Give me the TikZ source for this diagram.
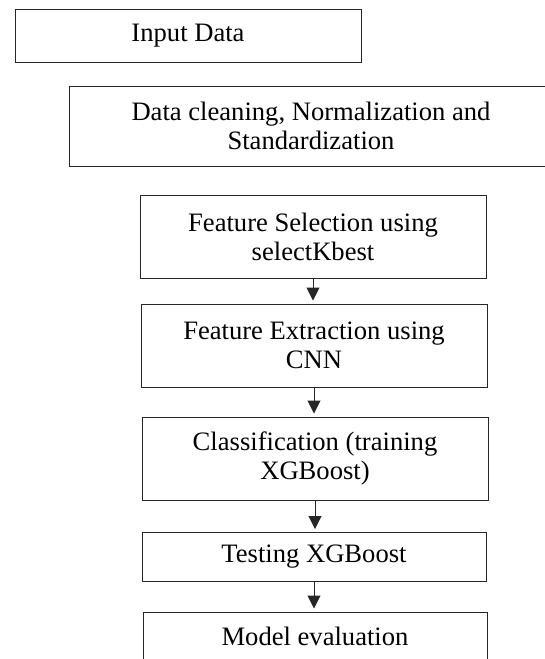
\documentclass[tikz,border=0pt]{standalone}
\usepackage{fontspec}
\setmainfont{Liberation Serif}
\usetikzlibrary{arrows.meta}

\begin{document}
\begin{tikzpicture}[
	x=0.5pt, y=-0.5pt,
	stage/.style = {draw=black!85, line width=0.5pt, rectangle, align=center, inner sep=0pt,
		font=\fontsize{13.3}{14.7}\selectfont},
	wide/.style  = {stage, minimum width=173pt, minimum height=41.5pt},
	flat/.style  = {stage, minimum width=172pt, minimum height=24.5pt},
	flow/.style  = {-{Triangle[length=6.5pt, width=6.5pt]}, draw=black!85, line width=0.5pt, shorten >=1.5pt},
	>=latex]
	
	\useasboundingbox (0,0) rectangle (545,659);
	
	% the two blocks at the top, no arrows
	\node[stage, minimum width=173pt, minimum height=26.5pt] (inp) at (188,35.5) {Input Data};
	\node[stage, minimum width=242pt, minimum height=40pt] (prep) at (311,126) {Data cleaning, Normalization and\\Standardization};
	
	% the chain of stages
	\node[wide] (fsel) at (313,237) {Feature Selection using\\selectKbest};
	\node[wide] (fext) at (314,345.5) {Feature Extraction using\\CNN};
	\node[wide] (clf) at (315,458.5) {Classification (training\\XGBoost)};
	\node[flat] (test) at (314,557) {Testing XGBoost};
	\node[flat] (eval) at (315,636.5) {Model evaluation};
	
	% arrows between the stages
	\draw[flow] (fsel) -- (fsel |- fext.north);
	\draw[flow] (fext) -- (fext |- clf.north);
	\draw[flow] (clf) -- (clf |- test.north);
	\draw[flow] (test) -- (test |- eval.north);
\end{tikzpicture}
\end{document}
